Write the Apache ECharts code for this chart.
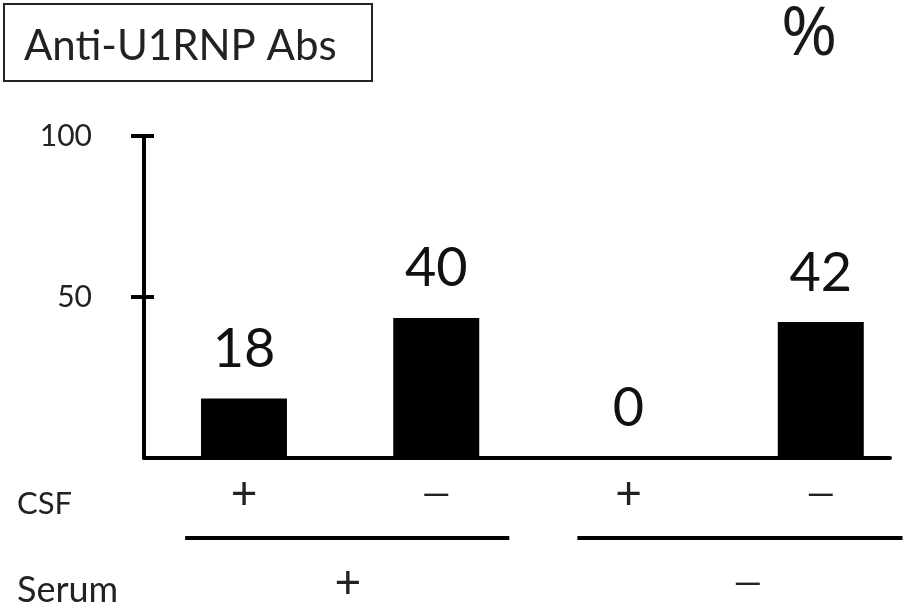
<!DOCTYPE html>
<html><head><meta charset="utf-8">
<script src="https://cdn.jsdelivr.net/npm/echarts@6/dist/echarts.min.js"></script>
<style>html,body{margin:0;padding:0;background:#fff}#c{width:904px;height:608px}</style>
</head><body><div id="c"></div>
<script>
// Data
const groups = [0, 1, 2, 3];                 // bar positions (category index)
const barHeights = [18.5, 43.5, 0, 42.2];    // bar heights as drawn (%)
const valueLabels = ['18', '40', '0', '42']; // printed percentages
const csfSigns = ['+', '—', '+', '—'];
const serumSigns = ['+', '—'];
const serumPos = [0.54, 2.62];
const yTicks = [50, 100];
const FONT = 'Lato, "Open Sans", sans-serif';

const chart = echarts.init(document.getElementById('c'), null, {renderer: 'canvas'});
chart.setOption({
  animation: false,
  backgroundColor: '#fff',
  grid: {left: 144, right: 14, top: 136, bottom: 150},
  xAxis: {
    type: 'value', min: -0.52, max: 3.36,
    axisLine: {show: true, onZero: false, lineStyle: {color: '#000', width: 4}},
    axisTick: {show: false}, axisLabel: {show: false}, splitLine: {show: false}
  },
  yAxis: [{
    type: 'value', min: 0, max: 100, interval: 50,
    axisLine: {show: true, onZero: false, lineStyle: {color: '#000', width: 4}},
    axisTick: {show: true, length: 13, customValues: yTicks, lineStyle: {color: '#000', width: 4}},
    axisLabel: {show: true, customValues: yTicks, margin: 52, color: '#222', fontSize: 30, fontFamily: FONT},
    splitLine: {show: false}
  }, {
    type: 'value', min: 0, max: 100, position: 'left',
    axisLine: {show: false, onZero: false},
    axisTick: {show: true, inside: true, length: 10, customValues: yTicks, lineStyle: {color: '#000', width: 4}},
    axisLabel: {show: false}, splitLine: {show: false}
  }],
  series: [{
    type: 'bar',
    data: groups.map((g, i) => [g, barHeights[i]]),
    barWidth: 86,
    itemStyle: {color: '#000'},
    label: {
      show: true, position: 'top', distance: 22,
      formatter: p => valueLabels[p.dataIndex],
      fontSize: 54, color: '#111', fontFamily: FONT
    }
  }]
});

function px(x, y) { return chart.convertToPixel({gridIndex: 0}, [x, y]); }
function signFont(s) { return s === '+' ? '46px ' + FONT : '36px ' + FONT; }
const g = [];
// title box
g.push({type: 'rect', shape: {x: 4, y: 4, width: 368, height: 77},
  style: {fill: 'none', stroke: '#222', lineWidth: 2}});
g.push({type: 'text', x: 24, y: 46, style: {text: 'Anti-U1RNP Abs', font: '42px ' + FONT, fill: '#222', textVerticalAlign: 'middle'}});
g.push({type: 'text', x: 809, y: 36, style: {text: '%', font: '68px "Open Sans", sans-serif', fill: '#1a1a1a', textAlign: 'center', textVerticalAlign: 'middle'}});
// CSF row
g.push({type: 'text', x: 17, y: 504, style: {text: 'CSF', font: '31px ' + FONT, fill: '#222', textVerticalAlign: 'middle'}});
groups.forEach((gi, i) => {
  const p = px(gi, 0);
  g.push({type: 'text', x: p[0], y: 494, style: {text: csfSigns[i], font: signFont(csfSigns[i]), fill: '#222', textAlign: 'center', textVerticalAlign: 'middle'}});
});
// Serum lines
[[-0.306, 1.38], [1.734, 3.425]].forEach(r => {
  const a = px(r[0], 0), b = px(r[1], 0);
  g.push({type: 'line', shape: {x1: a[0], y1: 538, x2: b[0], y2: 538}, style: {stroke: '#000', lineWidth: 4}});
});
g.push({type: 'text', x: 17, y: 590, style: {text: 'Serum', font: '36px ' + FONT, fill: '#222', textVerticalAlign: 'middle'}});
serumSigns.forEach((s, i) => {
  const p = px(serumPos[i], 0);
  g.push({type: 'text', x: p[0], y: 583, style: {text: s, font: signFont(s), fill: '#222', textAlign: 'center', textVerticalAlign: 'middle'}});
});
chart.setOption({graphic: g});
</script></body></html>
